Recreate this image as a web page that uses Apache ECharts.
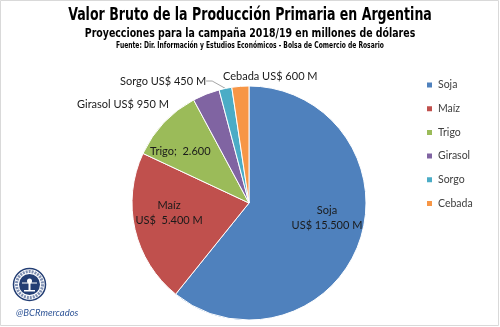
<!DOCTYPE html>
<html>
<head>
<meta charset="utf-8">
<script src="https://cdn.jsdelivr.net/npm/echarts@6/dist/echarts.min.js"></script>
<style>html,body{margin:0;padding:0;background:#fff}#c{width:500px;height:327px}</style>
</head>
<body>
<div id="c"></div>
<script>
const categories = ['Soja', 'Maíz', 'Trigo', 'Girasol', 'Sorgo', 'Cebada'];
const values = [15500, 5400, 2600, 950, 450, 600];
const labelTexts = ['Soja\nUS$ 15.500 M', 'Maíz\nUS$  5.400 M', 'Trigo;  2.600', 'Girasol US$ 950 M', 'Sorgo US$ 450 M', 'Cebada US$ 600 M'];
const colors = ['#4F81BD', '#C0504D', '#9BBB59', '#8064A2', '#4BACC6', '#F79646'];
const titleLines = [
  'Valor Bruto de la Producción Primaria en Argentina',
  'Proyecciones para la campaña 2018/19 en millones de dólares',
  'Fuente: Dir. Información y Estudios Económicos - Bolsa de Comercio de Rosario'
];

const titleFont = "'Liberation Sans Narrow', 'DejaVu Sans Condensed', 'Arial Narrow', sans-serif";
const bodyFont = "Lato, 'Open Sans', sans-serif";

const insideOffsets = [[20, -5], [-20, -4], [-24, -9]];
const outsideLayout = {
  3: { x: 77, y: 104 },
  4: { x: 120, y: 81 },
  5: { x: 223, y: 76 }
};

const data = categories.map((name, i) => {
  const item = { name, value: values[i], itemStyle: { color: colors[i] } };
  if (i < 3) {
    item.label = { position: 'inside', offset: insideOffsets[i] };
    item.labelLine = { show: false };
  } else {
    item.label = { position: 'outside' };
    item.labelLine = { show: i === 4, length: 6, length2: 6, lineStyle: { color: '#A6A6A6', width: 1 } };
  }
  return item;
});

const navy = '#233E74';
const chart = echarts.init(document.getElementById('c'), null, { renderer: 'canvas' });
chart.setOption({
  animation: false,
  backgroundColor: '#fff',
  legend: {
    orient: 'vertical', left: 420, top: 73,
    icon: 'rect', itemWidth: 7, itemHeight: 7, itemGap: 9.7,
    textStyle: { fontFamily: bodyFont, fontSize: 10.5, color: '#404040', lineHeight: 14 },
    data: categories
  },
  series: [{
    type: 'pie',
    center: [249, 203],
    radius: 117,
    startAngle: 90,
    clockwise: true,
    avoidLabelOverlap: false,
    itemStyle: { borderColor: '#fff', borderWidth: 1 },
    label: {
      fontFamily: bodyFont, fontSize: 11, color: '#1a1a1a', lineHeight: 15,
      formatter: p => labelTexts[p.dataIndex]
    },
    labelLayout: p => {
      const o = outsideLayout[p.dataIndex];
      return o ? { x: o.x, y: o.y, align: 'left', verticalAlign: 'middle' } : {};
    },
    data
  }],
  graphic: [
    { type: 'rect', shape: { x: 0.5, y: 0.5, width: 498, height: 325 }, style: { fill: 'none', stroke: '#D9D9D9', lineWidth: 1 }, silent: true },
    { type: 'text', x: 250, y: 16, scaleX: 0.822, style: { text: titleLines[0], align: 'center', verticalAlign: 'middle', font: "bold 17px " + titleFont, fill: '#000' } },
    { type: 'text', x: 250, y: 33.5, scaleX: 0.871, style: { text: titleLines[1], align: 'center', verticalAlign: 'middle', font: "bold 12px " + titleFont, fill: '#000' } },
    { type: 'text', x: 250, y: 45.8, scaleX: 0.785, style: { text: titleLines[2], align: 'center', verticalAlign: 'middle', font: "bold 8.5px " + titleFont, fill: '#000' } },
    { type: 'circle', shape: { cx: 29.5, cy: 284.5, r: 16 }, style: { fill: '#fff', stroke: navy, lineWidth: 1.5 } },
    { type: 'circle', shape: { cx: 29.5, cy: 284.5, r: 13 }, style: { fill: 'none', stroke: '#7F90B3', lineWidth: 3, lineDash: [2, 1] } },
    { type: 'circle', shape: { cx: 29.5, cy: 284.5, r: 10.5 }, style: { fill: navy } },
    { type: 'circle', shape: { cx: 29.5, cy: 281, r: 2.5 }, style: { fill: '#fff' } },
    { type: 'rect', shape: { x: 28.5, y: 282, width: 2, height: 8 }, style: { fill: '#fff' } },
    { type: 'rect', shape: { x: 24, y: 290, width: 11, height: 1.5 }, style: { fill: '#fff' } },
    { type: 'line', shape: { x1: 22, y1: 283, x2: 37, y2: 283 }, style: { stroke: '#fff', lineWidth: 1 } },
    { type: 'text', left: 16, top: 308, style: { text: '@BCRmercados', font: "italic 9.5px Lato, 'Open Sans', sans-serif", fill: '#2F5597' } }
  ]
});
</script>
</body>
</html>
